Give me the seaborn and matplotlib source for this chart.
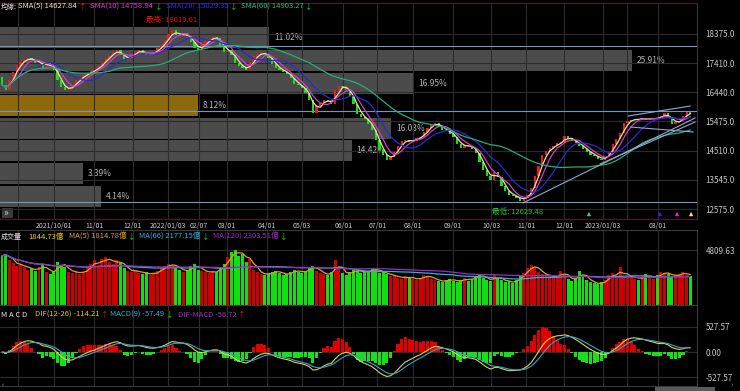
import numpy as np
import pandas as pd
import matplotlib
matplotlib.use("Agg")
import matplotlib.pyplot as plt
import seaborn as sns
from matplotlib.patches import Rectangle

# ---------------- data (one value per 2 sessions) ----------------
prev_close = 16950
closes = [
    16690, 16520, 16855, 17120, 17350, 17450, 17550, 17580, 17515, 17420,
    17450, 17250, 17420, 17320, 17185, 16855, 16620, 16520, 16590, 16660,
    16855, 16920, 17020, 17085, 17150, 17185, 17320, 17420, 17580, 17680,
    17780, 17845, 17680, 17515, 17580, 17715, 17780, 17845, 17745, 17680,
    17715, 17780, 17910, 18010, 18175, 18375, 18507, 18340, 18310, 18410,
    18310, 18110, 17910, 17845, 18010, 18145, 18210, 18275, 18240, 17980,
    17780, 17845, 17680, 17420, 17320, 17250, 17185, 17450, 17650, 17715,
    17745, 17715, 17580, 17385, 17250, 17185, 17120, 17050, 16920, 16720,
    16690, 16590, 16425, 16195, 15750, 15995, 16095, 16195, 16160, 16060,
    16525, 16655, 16620, 16555, 16325, 16060, 15730, 15630, 15565, 15400,
    15200, 14870, 14540, 14375, 14210, 14310, 14475, 14675, 14840, 14870,
    14805, 14840, 14940, 14970, 15135, 15270, 15400, 15435, 15300, 15200,
    15170, 15070, 14970, 14740, 14610, 14705, 14675, 14575, 14445, 14145,
    13880, 13680, 13550, 13815, 13650, 13350, 13155, 13055, 13020, 12955,
    12855, 12955, 13055, 13285, 13680, 14010, 14375, 14510, 14605, 14675,
    14775, 14805, 15005, 14905, 14840, 14775, 14675, 14575, 14475, 14375,
    14345, 14245, 14210, 14310, 14475, 14740, 14905, 15105, 15435, 15500,
    15535, 15565, 15535, 15600, 15535, 15565, 15600, 15565, 15665, 15765,
    15600, 15400, 15465, 15500, 15665, 15800, 15730,
]
volumes = [
    4300, 4500, 3900, 3700, 3400, 3600, 3300, 3100, 3200, 3000,
    3300, 3600, 2900, 2700, 3000, 3800, 3500, 3300, 2900, 2800,
    3000, 2700, 2900, 3300, 3600, 3900, 3500, 4000, 4200, 3800,
    3600, 3900, 3700, 3200, 3000, 2900, 3100, 2800, 2700, 2900,
    2600, 2800, 3000, 3200, 3400, 3600, 3500, 3300, 3100, 2900,
    3000, 3400, 3600, 3100, 3000, 2900, 2800, 3000, 2900, 3300,
    3600, 4200, 4600, 4800, 4300, 4500, 3800, 4000, 3100, 2900,
    2700, 2600, 2800, 2900, 3000, 2800, 2600, 2700, 2900, 3100,
    2900, 2800, 3000, 3300, 3400, 3000, 2800, 2700, 2600, 2900,
    3900, 3200, 2800, 2600, 2900, 3100, 3000, 2800, 2900, 3000,
    3200, 3100, 2800, 2900, 2700, 2500, 2600, 2400, 2300, 2500,
    2400, 2300, 2200, 2400, 2600, 2500, 2300, 2200, 2100, 2000,
    2200, 2300, 2100, 2000, 2200, 2400, 2100, 2300, 2500, 2700,
    2400, 2200, 2100, 2600, 2300, 2200, 2000, 2100, 1900, 2200,
    2600, 2800, 3200, 3500, 3300, 2900, 2700, 2500, 2600, 2400,
    2500, 3000, 2600, 2300, 2100, 2400, 3000, 2500, 2200, 2000,
    1900, 1800, 2000, 2200, 2600, 2800, 2500, 3300, 2500, 2400,
    2600, 2300, 2200, 2500, 2700, 2400, 2300, 2600, 2900, 2800,
    2700, 2500, 2600, 2700, 2900, 2600, 2500,
]
tick_idx = [4.3, 14.1, 24.9, 35.4, 44.9, 53.2, 60.8, 71.6, 81.1, 92.2,
            101.4, 111.1, 121.9, 132.2, 141.6, 151.9, 162.4, 168.9, 177.3]
tick_labels = ["", "2021/10/01", "11/01", "12/01", "2022/01/03", "02/07", "03/01",
               "04/01", "05/03", "06/01", "07/01", "08/01", "09/01", "10/03",
               "11/01", "12/01", "2023/01/03", "", "03/01"]
price_ticks = [18375.0, 17410.0, 16440.0, 15475.0, 14510.0, 13545.0, 12575.0]
vol_ticks = [4809.63]
macd_ticks = [527.57, 0.0, -527.57]
dist_pct = [11.02, 25.91, 16.95, 8.12, 16.03, 14.42, 3.39, 4.14]   # top band -> bottom band
price_high = 18619.61
price_low = 12629.48
level_lines = [17977, 15823, 12807]
trend_x0 = [140.8, 169.2, 169.7, 161.6]
trend_p0 = [12774, 15657, 15292, 14066]
trend_x1 = [187.3, 186.0, 186.8, 187.3]
trend_p1 = [15591, 15988, 15127, 15458]
mark_idx = [158.6, 177.8, 182.4, 186.2]
mark_colors = ["#3cc8a0", "#2a2ad8", "#d030d0", "#e8e090"]

sma_windows = [3, 5, 10, 30]      # 5/10/20/60 days at 2 sessions per point
sma_names = ["SMA(5) 14627.84", "SMA(10) 14758.94", "SMA(20) 15029.35", "SMA(60) 14903.27"]
sma_arrows = ["↑", "↓", "↓", "↓"]
sma_colors = ["#ece6a0", "#d23cd2", "#2a2ad2", "#22b07a"]
sma_text_colors = ["#ece6a0", "#d23cd2", "#2a2ae6", "#22c080"]
vol_windows = [3, 33, 60]
vol_names = ["MA(5) 1814.78億", "MA(66) 2177.15億", "MA(120) 2303.51億"]
vol_colors = ["#e0a020", "#28b4dc", "#a028c8"]

# ---------------- style ----------------
sns.set_theme(style="dark")
plt.rcParams["font.family"] = ["Noto Sans CJK TC", "DejaVu Sans"]
plt.rcParams["axes.facecolor"] = "black"
plt.rcParams["figure.facecolor"] = "black"

W, H = 740, 391
fig = plt.figure(figsize=(W / 100, H / 100), dpi=100)

def rect(top, bottom):
    return [0, 1 - bottom / H, 697 / W, (bottom - top) / H]

ax_p = fig.add_axes(rect(3, 219))
ax_d = ax_p.twiny()
ax_v = fig.add_axes(rect(230, 305))
ax_m = fig.add_axes(rect(305, 386))

n = len(closes)
x = np.arange(n)
s = pd.Series(closes, dtype=float)
opens = np.array([prev_close] + closes[:-1], dtype=float)
up = s.values >= opens
RED, GREEN = "#f01818", "#18e018"
grid_c = "#2c2c2c"
txt_c = "#c8c8c8"
FS = 5.5

# ---------------- price-distribution bars (behind) ----------------
ax_p.set_zorder(2)
ax_p.patch.set_visible(False)
ax_d.set_zorder(1)
ax_d.patch.set_facecolor("black")
band = (price_high - price_low) / len(dist_pct)
centers = [price_high - band * (k + 0.5) for k in range(len(dist_pct))]
last = closes[-1]
bcols = ["#8c6a0c" if abs(c - last) <= band / 2 else "#4b4b4b" for c in centers]
ax_d.barh(centers, dist_pct, height=band * 0.93, left=0, color=bcols,
          edgecolor="none", linewidth=0, zorder=1)
for c, p in zip(centers, dist_pct):
    ax_d.text(p + 0.2, c, f"{p:.2f}%", color="#b4b4b4", fontsize=6, va="center", ha="left")
ax_d.set_xlim(0, 697 / 24.4)
ax_d.set_xticks([])
ax_d.grid(False)
for sp in ax_d.spines.values():
    sp.set_visible(False)

# ---------------- price panel ----------------
ylo = 12575 - 10 * 33.14
yhi = 12575 + 206 * 33.14
ax_p.set_ylim(ylo, yhi)
ax_d.set_ylim(ylo, yhi)
xlim = (-0.54, 187.8)
ax_p.set_xlim(xlim)

for lv in level_lines:
    ax_p.axhline(lv, color="#7896bc", lw=0.8, zorder=2)

body = np.where(np.abs(s.values - opens) < 8, 8, s.values - opens)
ax_p.bar(x, body, bottom=opens, width=0.6, color=np.where(up, RED, GREEN),
         edgecolor="none", linewidth=0, zorder=3)

for w, c in zip(sma_windows, sma_colors):
    sns.lineplot(x=x, y=s.rolling(w, min_periods=1).mean().values, ax=ax_p,
                 color=c, linewidth=0.9, zorder=4)

for a0, b0, a1, b1 in zip(trend_x0, trend_p0, trend_x1, trend_p1):
    ax_p.plot([a0, a1], [b0, b1], color="#8eaad4", lw=0.8, zorder=5)

ax_p.scatter(mark_idx, [12575 - 5 * 33.14] * len(mark_idx), marker="^", s=10,
             c=mark_colors, zorder=6, linewidths=0)

ax_p.yaxis.tick_right()
ax_p.set_yticks(price_ticks)
ax_p.set_yticklabels([f"{v:.1f}" for v in price_ticks])
ax_p.set_xticks(tick_idx)
ax_p.set_xticklabels(tick_labels)
ax_p.tick_params(axis="y", colors=txt_c, labelsize=5.8, length=0, pad=6)
ax_p.tick_params(axis="x", colors=txt_c, labelsize=5.0, length=0, pad=2)
ax_p.grid(True, color=grid_c, lw=0.8)
ax_p.set_xlabel("")
ax_p.set_ylabel("")

# ---------------- volume panel ----------------
vs = pd.Series(volumes, dtype=float)
ax_v.bar(x, vs.values, width=0.8, color=np.where(up, "#d00000", "#10e010"),
         edgecolor="none", linewidth=0, zorder=2)
for w, c in zip(vol_windows, vol_colors):
    sns.lineplot(x=x, y=vs.rolling(w, min_periods=1).mean().values, ax=ax_v,
                 color=c, linewidth=0.9, zorder=3)
ax_v.set_xlim(xlim)
ax_v.set_ylim(0, (305 - 230) * 87.45)
ax_v.yaxis.tick_right()
ax_v.set_yticks(vol_ticks)
ax_v.set_yticklabels([f"{v:.2f}" for v in vol_ticks])
ax_v.set_xticks(tick_idx)
ax_v.set_xticklabels([])
ax_v.tick_params(axis="y", colors=txt_c, labelsize=5.8, length=0, pad=6)
ax_v.tick_params(axis="x", length=0)
ax_v.grid(True, color=grid_c, lw=0.8)
ax_v.set_xlabel("")
ax_v.set_ylabel("")

# ---------------- MACD panel ----------------
ema_f = s.ewm(span=6, adjust=False).mean()
ema_s = s.ewm(span=13, adjust=False).mean()
dif = ema_f - ema_s
sig = dif.ewm(span=4.5, adjust=False).mean()
osc = dif - sig
ax_m.bar(x, osc.values * 3, width=0.85, color=np.where(osc.values >= 0, "#e00000", "#18e018"),
         edgecolor="none", linewidth=0, zorder=2)
sns.lineplot(x=x, y=dif.values, ax=ax_m, color="#e0d050", linewidth=0.8, zorder=3)
sns.lineplot(x=x, y=sig.values, ax=ax_m, color="#30a8d0", linewidth=0.8, zorder=3)
ax_m.set_xlim(xlim)
ax_m.set_ylim(-34 * 21.1, 47 * 21.1)
ax_m.yaxis.tick_right()
ax_m.set_yticks(macd_ticks)
ax_m.set_yticklabels([f"{v:.2f}" for v in macd_ticks])
ax_m.set_xticks(tick_idx)
ax_m.set_xticklabels([])
ax_m.tick_params(axis="y", colors=txt_c, labelsize=5.8, length=0, pad=6)
ax_m.tick_params(axis="x", length=0)
ax_m.grid(True, color=grid_c, lw=0.8)
ax_m.set_xlabel("")
ax_m.set_ylabel("")

for a in (ax_p, ax_v, ax_m):
    for k, sp in a.spines.items():
        sp.set_visible(k in ("top", "bottom", "right"))
        sp.set_color("#3a3a3a")
        sp.set_linewidth(0.8)
ax_p.spines["top"].set_color("#5a1428")
ax_p.spines["bottom"].set_color("#5a1428")

# ---------------- header texts (laid out one after another) ----------------
renderer = fig.canvas.get_renderer()

def seq(xp, yp, parts, gap=2.0):
    cur = xp
    for s_, c, fs in parts:
        tx = fig.text(cur / W, 1 - yp / H, s_, color=c, fontsize=fs, ha="left", va="center")
        bb = tx.get_window_extent(renderer)
        cur = bb.x1 + gap
    return cur

def arrow_color(a):
    return RED if a == "↑" else GREEN

seq(1, 7, [("均線:", "#e8e8e8", 5.0), (sma_names[0], sma_text_colors[0], FS),
           (sma_arrows[0], arrow_color(sma_arrows[0]), FS)], gap=1.5)
for xp, nm, ar, c in zip([90, 166, 241], sma_names[1:], sma_arrows[1:], sma_text_colors[1:]):
    seq(xp, 7, [(nm, c, FS), (ar, arrow_color(ar), FS)], gap=1.5)

seq(146, 20, [("最高: 18619.61", "#e01010", FS)])
seq(492, 212, [("最低: 12629.48", "#20c020", FS)])

seq(1, 237, [("成交量", "#e8e8e8", 5.0)])
seq(28, 237, [("1844.73億", "#f0d000", FS)])
for xp, nm, c in zip([69, 139, 213], vol_names, vol_colors):
    seq(xp, 237, [(nm, c, FS), ("↓", GREEN, FS)], gap=1.5)

seq(1, 315, [("M A C D", "#e8e8e8", FS)])
seq(35, 315, [("DIF(12-26) -114.21", "#e0c820", FS), ("↑", RED, FS)], gap=1.5)
seq(110, 315, [("MACD(9) -57.49", "#30b0d8", FS), ("↓", GREEN, FS)], gap=1.5)
seq(178, 315, [("DIF-MACD -56.72", "#a828d0", FS), ("↑", RED, FS)], gap=1.5)

# small UI pieces
fig.patches.append(Rectangle((2 / W, 1 - 218 / H), 11 / W, 10 / H, transform=fig.transFigure,
                             facecolor="#3a3a3a", edgecolor="none"))
seq(3.5, 213, [("»", "#d0d0d0", 7)])
fig.patches.append(Rectangle((655 / W, 0), 60 / W, 4 / H, transform=fig.transFigure,
                             facecolor="#5a5a5a", edgecolor="none"))
seq(2, 386, [("‹", "#909090", 5.5)])
seq(731, 386, [("›", "#909090", 5.5)])

fig.savefig("out.png", dpi=100, facecolor="black")
